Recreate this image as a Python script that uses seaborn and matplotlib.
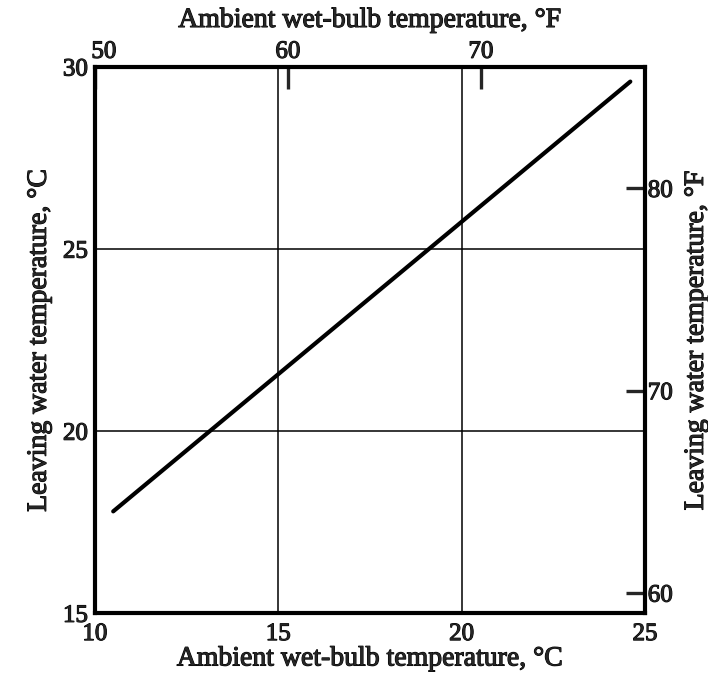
import numpy as np
import pandas as pd
import matplotlib
matplotlib.use("Agg")
import matplotlib.pyplot as plt
import matplotlib.transforms as mtransforms
import matplotlib.patheffects as pe
import seaborn as sns

# =========================
# DATA
# =========================
wet_bulb_c = [10.5, 24.6]        # ambient wet-bulb, deg C
leaving_c = [17.8, 29.6]         # leaving water, deg C
x_ticks_c = [10, 15, 20, 25]
y_ticks_c = [15, 20, 25, 30]
top_ticks_f = [50, 60, 70]
right_ticks_f = [60, 70, 80]

df = pd.DataFrame({"wb": wet_bulb_c, "lw": leaving_c})

sns.set_style("white")
plt.rcParams['font.family'] = ['Liberation Serif', 'DejaVu Serif']

fig = plt.figure(figsize=(7.08, 6.77), dpi=100)
ax = fig.add_axes([0.134, 0.094, 0.777, 0.807])

sns.lineplot(data=df, x="wb", y="lw", color="black", linewidth=3.0, ax=ax)

ax.set_xlim(10, 25)
ax.set_ylim(15, 30)
ax.set_xticks(x_ticks_c)
ax.set_yticks(y_ticks_c)
ax.tick_params(length=0, labelsize=18, pad=5)
ax.tick_params(axis="x", pad=7)

# grid lines at interior ticks
for v in x_ticks_c[1:-1]:
    ax.axvline(v, color="black", linewidth=1.1)
for v in y_ticks_c[1:-1]:
    ax.axhline(v, color="black", linewidth=1.1)

for s in ax.spines.values():
    s.set_linewidth(3.0)
    s.set_color("black")

ax.set_xlabel("Ambient wet-bulb temperature, °C", fontsize=20, labelpad=1)
ax.set_ylabel("Leaving water temperature, °C", fontsize=20, labelpad=8)


# the printed °F scale on top is slightly compressed compared with the °C one
def c2f_top(c):
    return 50 + (np.asarray(c) - 10) * 1.9


def f2c_top(f):
    return 10 + (np.asarray(f) - 50) / 1.9


def c2f(c):
    return np.asarray(c) * 9 / 5 + 32


def f2c(f):
    return (np.asarray(f) - 32) * 5 / 9


top = ax.secondary_xaxis("top", functions=(c2f_top, f2c_top))
top.set_xticks(top_ticks_f)
top.tick_params(direction="in", length=16, width=2.4, labelsize=18, pad=3)
top.set_xlabel("Ambient wet-bulb temperature, °F", fontsize=20, labelpad=10)
# nudge the corner "50" off the spine
first = top.get_xticklabels()[0]
first.set_transform(first.get_transform() +
                    mtransforms.ScaledTranslation(9 / 100, 0, fig.dpi_scale_trans))

right = ax.secondary_yaxis("right", functions=(c2f, f2c))
right.set_yticks(right_ticks_f)
right.tick_params(direction="in", length=14, width=2.4, labelsize=18, pad=2)
right.set_ylabel("Leaving water temperature, °F", fontsize=20, labelpad=8)

# heavier ink look of the printed figure
for t in fig.findobj(matplotlib.text.Text):
    t.set_path_effects([pe.withStroke(linewidth=0.8, foreground="black")])

plt.savefig("out.png", dpi=100)
